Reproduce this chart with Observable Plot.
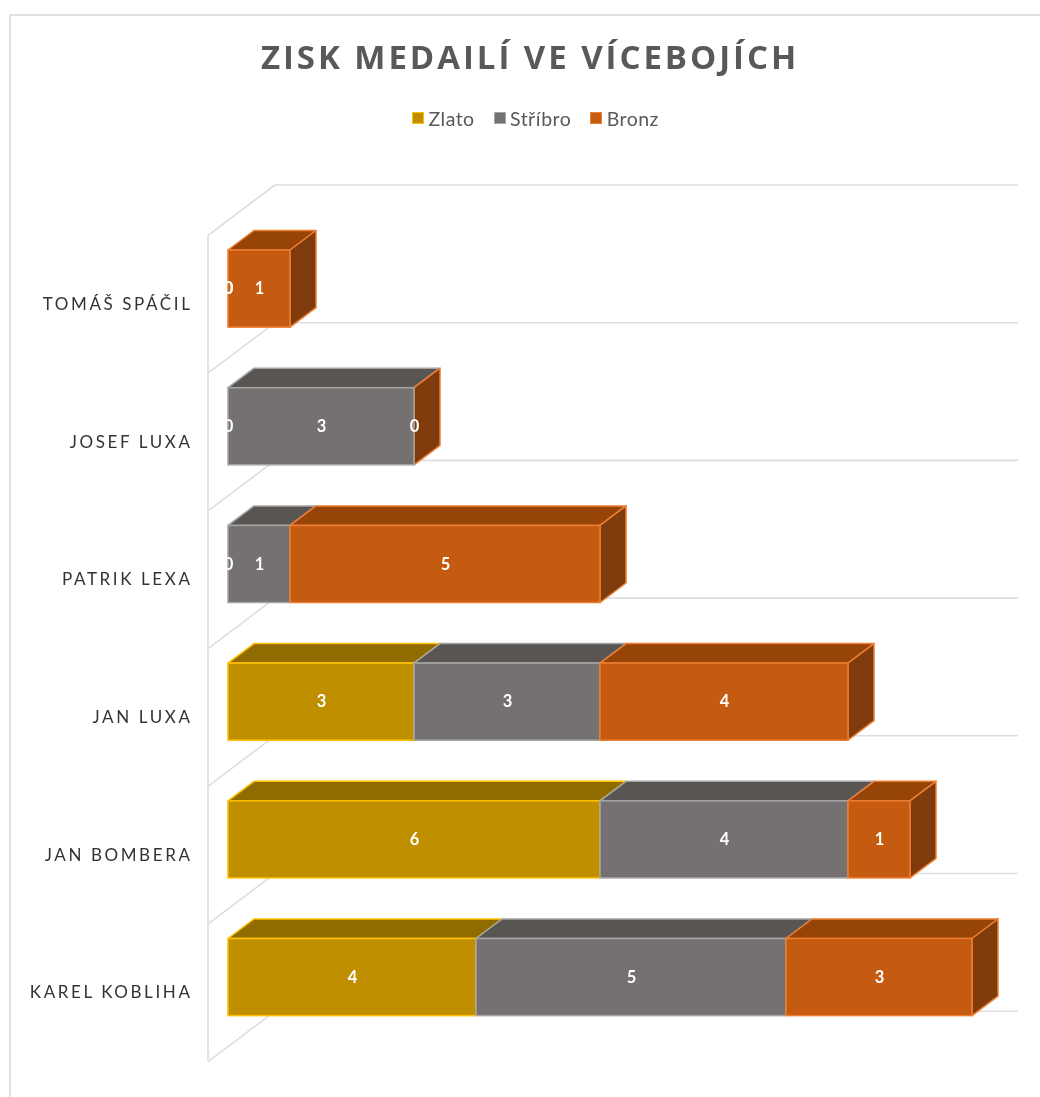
<!DOCTYPE html>
<html lang="cs">
<head>
<meta charset="utf-8">
<script src="https://cdn.jsdelivr.net/npm/d3@7"></script>
<script src="https://cdn.jsdelivr.net/npm/@observablehq/plot@0.6"></script>
<style>
  html, body { margin: 0; padding: 0; background: #fff; overflow: hidden; }
  #page { position: relative; width: 1040px; height: 1097px; overflow: hidden; filter: blur(0.35px); }
  #frame { position: absolute; left: 9px; top: 14px; width: 1040px; height: 1100px;
           border-left: 2px solid #e0e0e0; border-top: 2px solid #e0e0e0; box-sizing: border-box; }
  #header { position: relative; height: 130px; }
  #title { position: absolute; left: 0; width: 1060px; top: 34px; text-align: center;
           font: 700 33px "Open Sans", sans-serif; letter-spacing: 2.95px; color: #595959; line-height: 46px; white-space: nowrap; }
  #legend { position: absolute; left: 412px; top: 107px; height: 22px; display: flex; align-items: center;
            font: 400 19.5px Lato, sans-serif; letter-spacing: 0.45px; color: #595959; white-space: nowrap; }
  #legend .sw { width: 10px; height: 10px; border: 1.5px solid; margin-right: 4.5px; display: inline-block; }
  #legend .it { display: flex; align-items: center; margin-right: 19px; }
  #chart { position: relative; }
  #chart svg { display: block; background: transparent; }
  g[aria-label="y-axis tick label"] text { letter-spacing: 2.6px; }
</style>
</head>
<body>
<div id="page">
  <div id="frame"></div>
  <div id="header">
    <div id="title">ZISK MEDAILÍ VE VÍCEBOJÍCH</div>
    <div id="legend"></div>
  </div>
  <div id="chart"></div>
</div>
<script>
// Data, top row first
const names = ["TOMÁŠ SPÁČIL", "JOSEF LUXA", "PATRIK LEXA", "JAN LUXA", "JAN BOMBERA", "KAREL KOBLIHA"];
const zlato = [0, 0, 0, 3, 6, 4];
const stribro = [0, 3, 1, 3, 4, 5];
const bronz = [1, 0, 5, 4, 1, 3];
const seriesNames = ["Zlato", "Stříbro", "Bronz"];

// Colours: front, edge, top face, side face
const front = ["#bf8f00", "#767171", "#c55a11"];
const edge = ["#ffc000", "#a5a5a5", "#ed7d31"];
const topFace = ["#8f6b00", "#595553", "#974409"];
const sideFace = "#7f3b0b";
const gridColor = "#dedede";

// Stacked segments
const segments = [];
names.forEach((name, r) => {
  let start = 0;
  [zlato[r], stribro[r], bronz[r]].forEach((value, s) => {
    segments.push({name, s, value, start, end: start + value, last: s === 2});
    start += value;
  });
});

// Pseudo-3D depth in pixels
const depthX = 26, depthY = 19.5;

function polygon(points, fill, stroke, sw) {
  const p = document.createElementNS("http://www.w3.org/2000/svg", "polygon");
  p.setAttribute("points", points.map(q => q.join(",")).join(" "));
  p.setAttribute("fill", fill);
  if (stroke) { p.setAttribute("stroke", stroke); p.setAttribute("stroke-width", sw); p.setAttribute("stroke-linejoin", "round"); }
  return p;
}
function group() { return document.createElementNS("http://www.w3.org/2000/svg", "g"); }
const bandOf = (y) => typeof y.bandwidth === "function" ? y.bandwidth() : y.bandwidth;

// Top faces: a parallelogram behind the upper edge of each segment
const topFaces = (data) => Plot.barX(data, {
  x1: "start", x2: "end", y: "name",
  render(index, scales) {
    const g = group();
    const {x, y} = scales;
    for (const i of index) {
      const d = data[i];
      if (d.value === 0) continue;
      const t = y(d.name), a = x(d.start), b = x(d.end);
      g.appendChild(polygon([[a, t], [a + depthX, t - depthY], [b + depthX, t - depthY], [b, t]], topFace[d.s], edge[d.s], 1.5));
    }
    return g;
  }
});

// Side faces: only at the end of each stack
const sideFaces = (data) => Plot.barX(data, {
  x1: "start", x2: "end", y: "name",
  render(index, scales) {
    const g = group();
    const {x, y} = scales;
    const h = bandOf(y);
    for (const i of index) {
      const d = data[i];
      if (!d.last) continue;
      const t = y(d.name), b = x(d.end);
      g.appendChild(polygon([[b, t], [b + depthX, t - depthY], [b + depthX, t - depthY + h], [b, t + h]], sideFace, edge[2], 1.5));
    }
    return g;
  }
});

// Back wall and left wall of the 3D box
const walls = Plot.barX(names, {
  x1: () => 0, x2: () => 12, y: d => d,
  render(index, scales) {
    const g = group();
    const {x, y} = scales;
    const step = y(names[1]) - y(names[0]);
    const levels = names.map(n => y(n) - 65);
    levels.push(levels[levels.length - 1] + step);
    const left = x(0) - 20, inner = x(0) + 47, right = x(12) + 46;
    const line = (x1, y1, x2, y2) => {
      const l = document.createElementNS("http://www.w3.org/2000/svg", "line");
      l.setAttribute("x1", x1); l.setAttribute("y1", y1);
      l.setAttribute("x2", x2); l.setAttribute("y2", y2);
      l.setAttribute("stroke", gridColor); l.setAttribute("stroke-width", 1.6);
      g.appendChild(l);
    };
    for (const gy of levels) {
      line(inner, gy, right, gy);
      line(left, gy + 50.5, inner, gy);
    }
    line(left, levels[0] + 50.5, left, levels[levels.length - 1] + 50.5);
    return g;
  }
});

const chart = Plot.plot({
  width: 1040,
  height: 967,
  marginLeft: 228,
  marginRight: 68,
  marginTop: 59.4,
  marginBottom: 20.8,
  x: {domain: [0, 12], axis: null},
  y: {domain: names, padding: 0.44, align: 0.5, round: false, axis: null},
  style: {background: "transparent"},
  marks: [
    walls,
    topFaces(segments),
    sideFaces(segments),
    Plot.rectX(segments.filter(d => d.value > 0), {
      x1: "start", x2: "end", y: "name",
      fill: d => front[d.s], stroke: d => edge[d.s], strokeWidth: 1.5
    }),
    Plot.axisY({
      anchor: "left", tickSize: 0, tickPadding: 36, dy: 15.3,
      fontSize: 17, fontFamily: "Lato, sans-serif", fill: "#333333", label: null
    }),
    Plot.text(segments, {
      x: d => (d.start + d.end) / 2, y: "name", text: d => String(d.value),
      fill: "white", fontWeight: 700, fontSize: 16.5, fontFamily: "Lato, sans-serif"
    })
  ]
});
document.getElementById("chart").appendChild(chart);

// Legend
const legend = document.getElementById("legend");
seriesNames.forEach((n, i) => {
  const it = document.createElement("span"); it.className = "it";
  const sw = document.createElement("span"); sw.className = "sw";
  sw.style.background = front[i]; sw.style.borderColor = edge[i];
  it.appendChild(sw); it.appendChild(document.createTextNode(n));
  legend.appendChild(it);
});
</script>
</body>
</html>
